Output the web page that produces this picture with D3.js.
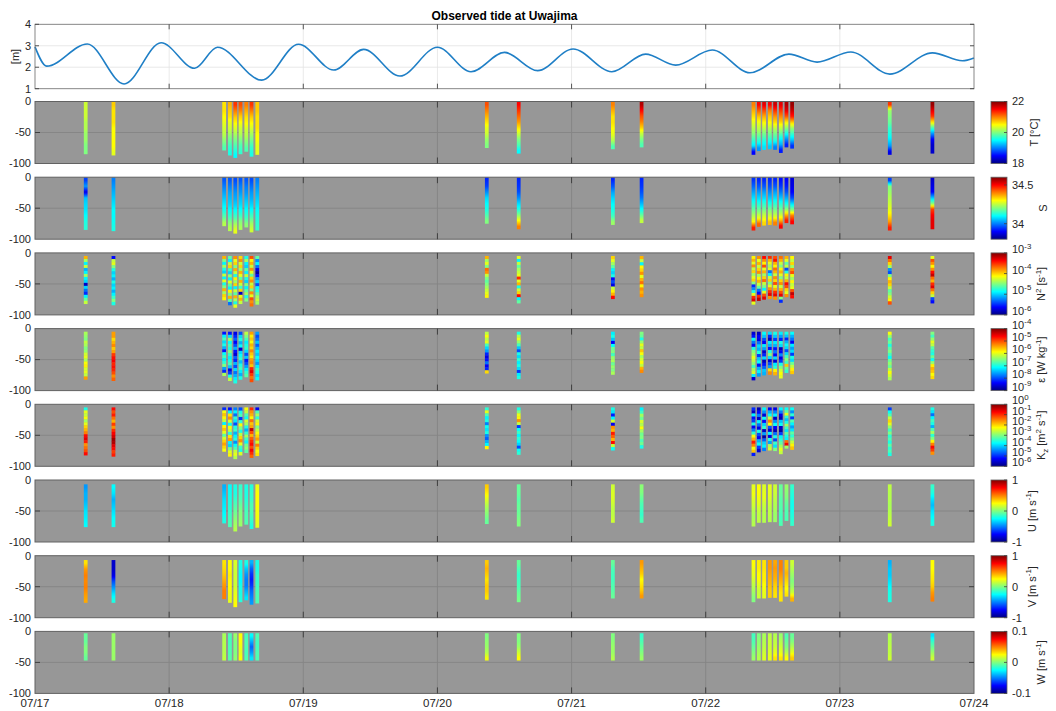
<!DOCTYPE html>
<html><head><meta charset="utf-8">
<script src="https://cdn.jsdelivr.net/npm/d3@7"></script>
<style>
body{margin:0;background:#fff;}
text{font-family:"Liberation Sans",Arial,Helvetica,sans-serif;}
</style>
</head><body>
<svg id="chart" width="1056" height="711"></svg>
<script>
// ---------------- DATA ----------------
const dayLabels = ["07/17","07/18","07/19","07/20","07/21","07/22","07/23","07/24"];
// tide extremes (days since 07/17 00:00, metres)
const tideDay   = [0.0,0.087,0.39,0.664,0.94,1.19,1.36,1.69,1.965,2.227,2.45,2.72,3.0,3.25,3.5,3.747,4.011,4.30,4.552,4.776,5.049,5.33,5.62,5.83,6.082,6.373,6.69,6.914,7.0];
const tideLevel = [2.95,2.05,3.08,1.22,3.14,1.95,2.93,1.40,3.07,1.87,2.83,1.59,2.93,1.79,2.69,1.84,2.85,1.79,2.61,2.10,2.80,1.74,2.61,2.24,2.71,1.68,2.67,2.30,2.43];

// cast times (days since 07/17 00:00)
const castTime  = [0.378,0.585, 1.410,1.453,1.493,1.532,1.575,1.614,1.657, 3.368,3.606, 4.308,4.522, 5.356,5.396,5.435,5.478,5.517,5.560,5.602,5.644, 6.372,6.690];
// profile bottom depths (m)
const ctdBottom = [85,87, 79,87,91,85,81,89,86, 75,84, 77,74, 86,80,78,77,78,83,74,76, 86,84];
const adcpBottom= [76,76, 70,76,83,75,72,79,77, 71,75, 69,69, 75,69,69,68,68,74,66,74, 75,74];
const wTopBottom = [3,47];

// Temperature [degC], top to bottom
const tempC = [
 [20.3,20.3,20.3,20.2,20.2,20.1,20.1,20.0,20.0],
 [20.7,20.6,20.6,20.6,20.5,20.5,20.5,20.5,20.4],
 [20.6,20.6,20.5,20.4,20.3,20.2,20.0,19.8],
 [20.8,20.7,20.6,20.4,20.3,20.1,19.9,19.7,19.6],
 [21.3,21.0,20.7,20.5,20.3,20.1,19.9,19.7,19.5],
 [21.2,21.0,20.7,20.5,20.3,20.2,20.0,19.8,19.7],
 [21.0,20.8,20.6,20.5,20.3,20.2,20.0,19.8],
 [21.3,21.0,20.7,20.5,20.3,20.1,19.9,19.7,19.6],
 [20.7,20.7,20.6,20.6,20.6,20.5,20.5,20.4,20.4],
 [21.2,21.0,20.8,20.6,20.4,20.3,20.1,20.0],
 [21.5,21.3,21.1,20.9,20.6,20.3,20.0,19.8,19.5],
 [21.0,20.8,20.6,20.6,20.5,20.4,20.2,19.8],
 [21.8,21.5,21.2,21.0,20.7,20.3,20.0,19.8],
 [21.0,20.8,20.6,20.4,20.2,20.0,19.7,19.4,18.5],
 [21.5,21.1,20.7,20.4,20.2,19.9,19.6,19.1],
 [21.6,21.2,20.8,20.5,20.2,19.9,19.6,19.4],
 [21.5,21.0,20.7,20.5,20.2,19.9,19.6,19.3],
 [21.7,21.3,20.9,20.6,20.2,19.9,19.6,19.0],
 [21.6,21.3,21.0,20.7,20.3,19.9,19.5,19.2,18.6],
 [21.8,21.6,21.2,20.6,20.1,19.6,19.1,18.6],
 [21.9,21.7,21.4,20.7,20.1,19.7,19.3,18.7],
 [21.3,20.1,20.0,19.9,19.7,19.6,19.4,19.1,18.4],
 [21.9,21.6,21.3,20.6,19.8,19.1,18.5,18.3,18.3]
];
// Salinity
const salinity = [
 [33.95,34.02,33.88,34.05,34.07,34.08,34.1,34.12,34.13],
 [34.0,34.02,34.04,34.06,34.08,34.1,34.1,34.11,34.12],
 [33.97,34.0,34.03,34.06,34.09,34.12,34.17,34.24],
 [33.97,34.0,34.03,34.05,34.07,34.1,34.14,34.2,34.24],
 [33.96,33.99,34.02,34.04,34.07,34.11,34.16,34.23,34.28],
 [33.97,34.0,34.02,34.05,34.07,34.1,34.14,34.2,34.23],
 [33.97,34.0,34.02,34.05,34.08,34.11,34.15,34.21],
 [33.96,33.99,34.02,34.04,34.07,34.11,34.16,34.22,34.26],
 [34.0,34.02,34.04,34.06,34.08,34.1,34.12,34.13,34.14],
 [33.93,33.95,34.01,34.07,34.1,34.12,34.16,34.2],
 [33.93,33.94,33.96,34.01,34.07,34.12,34.2,34.3,34.4],
 [33.93,33.97,34.03,34.07,34.1,34.12,34.15,34.22],
 [33.93,33.94,33.96,33.99,34.04,34.1,34.17,34.25],
 [33.94,33.98,34.03,34.08,34.13,34.18,34.24,34.3,34.48],
 [33.93,33.97,34.03,34.08,34.14,34.2,34.28,34.42],
 [33.93,33.97,34.03,34.08,34.14,34.2,34.27,34.33],
 [33.93,33.96,34.01,34.06,34.12,34.2,34.26,34.35],
 [33.93,33.97,34.03,34.08,34.14,34.2,34.27,34.4],
 [33.91,33.94,33.99,34.05,34.12,34.18,34.25,34.35,34.5],
 [33.9,33.92,33.96,34.03,34.1,34.2,34.35,34.48],
 [33.87,33.88,33.9,33.96,34.08,34.2,34.4,34.5],
 [33.95,34.2,34.22,34.24,34.26,34.28,34.32,34.38,34.48],
 [33.86,33.88,33.9,34.05,34.2,34.45,34.5,34.52,34.52]
];
// log10 N^2 [s^-1]
const log10N2 = [
 [-3.9,-4.4,-4.9,-4.3,-5.1,-4.9,-4.4,-4.9,-5.0,-5.8,-5.0,-5.3,-5.5,-4.9,-4.6,-4.3],
 [-5.6,-4.3,-4.2,-4.5,-4.8,-5.0,-4.9,-5.1,-4.8,-5.0,-4.9,-5.1,-4.9,-4.7,-4.5,-4.8],
 [-3.9,-4.5,-4.9,-4.4,-4.8,-5.0,-4.3,-4.9,-4.2,-4.8,-4.5,-3.9,-4.4,-4.0,-4.1],
 [-4.6,-4.9,-4.3,-4.0,-4.7,-5.0,-4.4,-4.9,-4.2,-4.6,-4.9,-4.1,-4.5,-3.9,-4.6,-5.3],
 [-3.8,-4.2,-4.0,-4.5,-3.9,-4.3,-4.8,-4.1,-4.4,-4.0,-4.9,-4.3,-4.6,-3.9,-4.4,-4.8,-4.2],
 [-4.0,-3.8,-4.3,-4.0,-4.4,-3.9,-4.2,-4.6,-3.9,-4.3,-4.7,-4.0,-5.8,-4.2,-3.9,-4.3],
 [-4.8,-4.4,-4.9,-5.0,-4.6,-4.9,-4.3,-4.8,-5.0,-4.5,-4.9,-4.6,-4.4,-4.8,-4.5],
 [-3.6,-4.1,-3.9,-4.3,-3.8,-4.2,-4.6,-4.0,-3.8,-4.3,-4.0,-4.5,-3.8,-4.2,-3.6,-3.8,-3.7],
 [-4.6,-5.2,-4.9,-5.3,-5.7,-5.9,-5.6,-5.2,-5.0,-5.4,-4.9,-4.8,-4.6,-4.4,-4.3,-4.4],
 [-3.9,-4.4,-4.2,-4.5,-3.7,-3.8,-4.3,-4.5,-4.6,-4.5,-4.4,-4.3,-4.2,-4.1],
 [-4.2,-4.9,-4.3,-4.6,-4.4,-4.3,-4.2,-3.5,-4.2,-3.9,-4.8,-4.3,-4.0,-3.4,-4.9,-4.6],
 [-4.0,-4.2,-4.4,-4.6,-4.9,-5.0,-4.8,-5.6,-5.4,-5.7,-4.3,-4.1,-3.9,-3.4],
 [-3.9,-4.3,-4.9,-4.1,-4.0,-3.8,-4.2,-3.9,-3.7,-4.1,-3.8,-3.9,-3.8],
 [-4.1,-3.9,-4.2,-3.8,-4.3,-4.0,-4.4,-4.2,-4.0,-4.5,-5.5,-5.2,-4.8,-4.2,-3.5,-3.3,-4.2],
 [-3.8,-4.2,-3.9,-4.3,-4.0,-3.8,-4.4,-4.1,-3.9,-4.3,-4.6,-5.3,-5.6,-3.5,-3.2],
 [-3.4,-3.8,-4.1,-3.6,-4.2,-3.9,-4.4,-4.0,-3.7,-4.3,-4.5,-4.9,-4.2,-3.6,-3.3],
 [-3.5,-3.9,-4.2,-4.4,-4.2,-5.3,-4.9,-4.3,-4.0,-4.5,-4.2,-3.8,-3.5,-3.3,-3.8],
 [-3.6,-3.4,-3.9,-4.1,-3.7,-3.9,-4.3,-3.8,-4.0,-3.6,-4.2,-3.9,-3.5,-3.3,-3.8],
 [-3.7,-3.9,-4.3,-4.5,-4.1,-3.9,-4.2,-4.5,-4.0,-3.8,-4.3,-3.9,-3.6,-3.3,-4.5,-5.5],
 [-3.9,-4.2,-4.6,-4.3,-5.4,-4.8,-4.1,-4.3,-3.9,-3.4,-3.6,-4.0,-4.2,-3.8],
 [-4.1,-4.3,-4.0,-4.4,-3.8,-3.6,-4.2,-4.4,-4.1,-4.3,-4.2,-3.6,-3.2,-3.4],
 [-3.3,-3.7,-4.0,-4.4,-5.2,-5.4,-4.5,-4.1,-3.9,-4.0,-4.3,-4.6,-4.5,-4.3,-4.1,-3.6],
 [-4.2,-3.6,-3.8,-4.1,-3.8,-3.4,-3.2,-3.7,-3.9,-3.5,-3.3,-3.7,-4.0,-4.3,-5.4,-5.6]
];
// log10 epsilon [W kg^-1]
const log10Eps = [
 [-6.3,-6.4,-6.5,-6.2,-6.3,-6.5,-6.4,-6.1,-6.0,-6.3,-5.9,-5.8,-6.1,-6.0,-6.2,-5.4],
 [-5.4,-5.4,-5.7,-5.5,-5.3,-5.6,-5.4,-4.9,-4.7,-4.6,-4.8,-4.7,-4.8,-5.0,-5.3,-5.1],
 [-8.3,-7.2,-6.8,-7.3,-7.0,-7.5,-8.3,-7.1,-6.8,-7.2,-6.9,-6.5,-7.6,-8.2,-6.3],
 [-8.3,-7.3,-6.4,-7.1,-6.8,-7.0,-6.5,-6.9,-7.2,-7.0,-6.8,-7.4,-8.5,-8.1,-7.0,-6.2],
 [-8.5,-8.2,-7.9,-8.4,-8.0,-7.5,-8.3,-8.6,-7.9,-8.2,-7.5,-8.0,-7.3,-7.8,-7.5,-7.2,-7.0],
 [-8.0,-7.3,-7.0,-7.5,-7.1,-8.6,-7.3,-7.1,-6.9,-7.4,-7.0,-6.8,-7.2,-7.5,-7.0],
 [-6.2,-6.5,-6.8,-7.2,-7.0,-6.9,-7.3,-8.0,-7.4,-8.3,-8.0,-7.6,-7.2,-6.9,-6.7],
 [-5.4,-5.8,-5.6,-5.9,-5.5,-5.7,-5.3,-5.6,-5.8,-5.4,-5.3,-5.6,-4.8,-4.5,-4.9,-5.2,-5.0],
 [-7.6,-8.0,-7.8,-7.4,-7.9,-7.5,-7.2,-7.4,-7.1,-7.3,-7.6,-7.2,-6.9,-7.0,-7.3,-7.1],
 [-6.2,-5.9,-6.2,-6.0,-6.8,-7.3,-7.6,-8.2,-8.5,-8.3,-7.8,-8.4,-8.2,-5.7],
 [-7.0,-6.3,-6.0,-6.4,-6.8,-7.4,-8.0,-7.0,-7.3,-6.9,-7.2,-7.0,-7.3,-8.1,-7.2,-7.0],
 [-7.2,-7.0,-7.4,-8.4,-7.1,-6.6,-6.5,-6.8,-6.4,-6.3,-6.6,-6.4,-6.5,-6.3],
 [-6.5,-6.6,-7.0,-6.4,-6.0,-6.2,-5.6,-5.9,-6.3,-6.1,-5.9,-6.2,-5.5,-5.3],
 [-8.6,-8.3,-7.1,-7.8,-8.4,-7.0,-6.5,-6.3,-6.0,-6.2,-6.4,-6.8,-6.3,-6.1,-7.2,-8.6],
 [-8.7,-8.4,-8.5,-7.8,-7.3,-7.5,-7.0,-8.1,-7.4,-7.1,-8.3,-7.5,-7.2,-7.6],
 [-7.1,-7.4,-8.0,-8.4,-7.2,-7.6,-8.6,-8.2,-7.3,-8.7,-8.3,-7.9,-7.4,-7.5],
 [-7.3,-8.2,-8.7,-7.2,-7.5,-8.3,-7.0,-6.5,-7.3,-8.6,-8.0,-7.6,-5.7,-5.3],
 [-7.0,-7.4,-8.1,-7.2,-7.5,-8.3,-7.8,-8.4,-7.3,-8.6,-7.2,-6.9,-5.8,-5.5],
 [-7.2,-7.6,-8.2,-7.0,-7.3,-8.7,-8.4,-7.7,-8.5,-8.1,-7.0,-6.5,-6.1,-5.9,-6.0],
 [-7.0,-7.4,-8.2,-7.5,-7.1,-7.3,-8.0,-7.3,-6.8,-6.5,-6.8,-5.6,-6.6,-6.9],
 [-7.1,-7.5,-7.8,-8.4,-7.2,-7.6,-7.3,-8.1,-7.0,-7.3,-6.6,-6.2,-5.8,-5.6],
 [-5.9,-6.4,-6.8,-6.6,-7.0,-6.7,-6.5,-6.8,-7.1,-6.6,-6.4,-6.6,-6.2,-5.9,-6.1,-6.3],
 [-6.5,-6.8,-6.4,-6.0,-6.2,-6.7,-6.9,-7.0,-6.6,-7.1,-6.4,-5.8,-5.5,-5.6,-5.9,-5.7]
];
// log10 Kz [m^2 s^-1]
const log10Kz = [
 [-3.6,-2.4,-2.6,-2.3,-2.8,-2.4,-2.0,-1.8,-1.5,-0.8,-0.6,-0.9,-1.6,-1.4,-1.2,-0.8],
 [-0.8,-1.2,-0.9,-1.4,-1.8,-1.1,-1.6,-1.0,-0.7,-0.5,-0.2,-0.3,-0.6,-0.8,-1.1,-0.9],
 [-5.0,-2.3,-1.9,-2.2,-2.6,-3.8,-2.2,-1.9,-2.4,-3.2,-2.5,-2.0,-1.7,-2.0,-2.3],
 [-5.2,-3.8,-2.1,-1.6,-2.5,-3.7,-2.3,-2.6,-3.5,-2.1,-1.7,-3.8,-4.0,-3.0,-2.4,-2.2],
 [-4.5,-3.8,-4.6,-3.5,-3.9,-4.8,-3.6,-3.4,-4.2,-3.8,-3.5,-4.4,-3.7,-3.3,-2.6,-2.4,-2.7],
 [-4.8,-3.6,-3.3,-4.9,-3.5,-2.3,-3.0,-3.6,-2.7,-2.0,-1.6,-2.4,-3.4,-3.6,-2.5],
 [-2.3,-2.6,-3.3,-3.7,-2.5,-2.8,-3.6,-4.2,-3.5,-2.8,-3.4,-3.8,-3.1,-2.9,-3.2],
 [-1.0,-1.6,-1.8,-2.2,-1.4,-1.9,-1.7,-0.4,-1.2,-1.8,-1.3,-1.0,-0.8,-1.2,-0.7,-1.0,-1.3],
 [-5.3,-3.3,-2.8,-3.5,-2.5,-2.2,-3.0,-2.6,-2.3,-2.0,-1.7,-2.5,-1.5,-2.0,-2.3,-2.1],
 [-3.5,-2.4,-3.3,-3.8,-3.6,-4.5,-3.7,-3.9,-3.6,-4.4,-4.7,-4.2,-3.8,-2.2],
 [-3.6,-3.0,-2.4,-2.2,-1.6,-2.6,-4.9,-3.7,-3.4,-3.8,-3.5,-3.7,-4.0,-4.8,-3.7,-3.5],
 [-3.6,-3.9,-5.1,-3.8,-2.5,-5.3,-1.6,-1.8,-0.9,-1.3,-1.8,-0.8,-2.6,-3.7],
 [-3.8,-3.4,-2.8,-3.1,-2.5,-2.7,-2.3,-2.8,-3.1,-3.0,-3.3,-3.1,-3.6],
 [-5.0,-5.6,-3.8,-5.2,-4.9,-3.6,-5.3,-4.5,-3.5,-2.3,-1.8,-0.9,-1.5,-2.3,-1.9,-5.1],
 [-5.7,-5.2,-4.5,-5.6,-3.8,-4.6,-5.4,-3.6,-4.8,-5.3,-4.2,-3.7,-4.9,-5.5],
 [-3.8,-4.4,-5.5,-3.7,-5.2,-4.0,-3.5,-5.6,-4.3,-5.8,-4.7,-4.0,-3.8,-4.5],
 [-5.3,-4.2,-3.7,-2.6,-1.5,-2.3,-4.8,-5.5,-3.8,-5.4,-3.6,-4.3,-2.8,-2.5],
 [-5.4,-4.5,-3.8,-5.6,-4.4,-3.7,-5.3,-5.7,-4.6,-3.6,-4.9,-3.4,-3.9,-3.0],
 [-3.8,-4.5,-5.4,-5.7,-4.1,-3.7,-5.6,-5.8,-4.9,-3.8,-3.5,-3.2,-2.8,-2.4,-2.6],
 [-3.7,-3.2,-2.4,-3.5,-4.1,-3.6,-2.8,-3.4,-3.9,-3.2,-3.6,-3.8,-1.4,-0.7,-2.8],
 [-3.7,-4.4,-3.5,-4.9,-3.3,-3.8,-4.3,-3.9,-3.2,-3.5,-3.1,-2.6,-2.2,-1.9],
 [-4.9,-3.7,-3.3,-2.6,-2.0,-2.4,-2.9,-3.4,-3.0,-3.5,-3.3,-3.6,-3.2,-3.5,-3.3,-3.6],
 [-3.6,-3.9,-4.6,-3.8,-3.4,-3.6,-4.2,-3.3,-2.8,-3.5,-3.0,-2.2,-1.5,-0.8,-1.1,-1.6]
];
// U [m s^-1]
const velU = [
 [-0.45,-0.4,-0.4,-0.35,-0.3,-0.28,-0.25],
 [-0.25,-0.3,-0.4,-0.35,-0.3,-0.25,-0.22],
 [-0.4,-0.35,-0.3,-0.28,-0.25,-0.2],
 [-0.25,-0.22,-0.2,-0.18,-0.15,-0.12,-0.1],
 [-0.2,-0.2,-0.15,-0.1,-0.05,0.0,0.05,0.1],
 [-0.15,-0.12,-0.1,-0.05,0.0,0.02,0.05],
 [-0.2,-0.2,-0.18,-0.15,-0.12,-0.1,-0.1],
 [-0.18,-0.15,-0.15,-0.1,-0.1,-0.12,-0.15,-0.2],
 [0.22,0.25,0.25,0.25,0.23,0.22,0.2],
 [0.35,0.28,0.2,0.12,0.05,0.0,-0.05],
 [-0.05,-0.05,-0.08,-0.05,-0.05,-0.02,0.0],
 [0.15,0.18,0.18,0.15,0.12,0.12,0.15],
 [0.02,0.0,-0.05,-0.1,-0.12,-0.15,-0.1],
 [0.2,0.22,0.18,0.15,0.1,0.08,0.1],
 [0.25,0.25,0.22,0.2,0.15,0.12,0.12],
 [0.18,0.2,0.2,0.15,0.12,0.1,0.1],
 [0.2,0.2,0.18,0.15,0.12,0.12,0.1],
 [0.15,0.15,0.12,0.1,0.08,0.05,0.05],
 [-0.05,-0.05,-0.08,-0.08,-0.1,-0.12,-0.1],
 [0.05,0.02,0.0,-0.05,-0.08,-0.1,-0.1],
 [-0.15,-0.18,-0.2,-0.22,-0.2,-0.18,-0.15],
 [0.12,0.1,0.1,0.08,0.1,0.12,0.15],
 [-0.15,-0.2,-0.3,-0.38,-0.3,-0.25,-0.2]
];
// V [m s^-1]
const velV = [
 [0.3,0.45,0.5,0.48,0.5,0.45,0.42],
 [-0.85,-0.85,-0.8,-0.6,-0.45,-0.3,-0.2],
 [0.3,0.32,0.35,0.4,0.45,0.5,0.5],
 [0.25,0.25,0.28,0.25,0.25,0.22,0.2],
 [0.18,0.15,0.15,0.15,0.15,0.2,0.22,0.25],
 [-0.2,-0.22,-0.25,-0.25,-0.2,-0.2,-0.18],
 [-0.2,-0.35,-0.45,-0.5,-0.5,-0.4,-0.3],
 [-0.4,-0.55,-0.65,-0.7,-0.65,-0.55,-0.5,-0.45],
 [-0.2,-0.2,-0.15,-0.15,-0.12,-0.1,-0.1],
 [0.35,0.4,0.35,0.3,0.35,0.35,0.3],
 [-0.05,-0.1,-0.15,-0.12,-0.1,-0.05,-0.02],
 [-0.05,-0.1,-0.12,-0.12,-0.1,-0.08,-0.05],
 [0.45,0.4,0.35,0.25,0.3,0.35,0.45],
 [0.25,0.22,0.2,0.15,0.1,0.05,0.0],
 [0.28,0.28,0.25,0.25,0.2,0.15,0.15],
 [0.3,0.3,0.28,0.28,0.25,0.22,0.2],
 [0.45,0.45,0.42,0.4,0.38,0.35,0.35],
 [0.42,0.45,0.42,0.4,0.35,0.32,0.3],
 [0.5,0.5,0.45,0.4,0.35,0.3,0.3],
 [0.35,0.35,0.4,0.35,0.3,0.25,0.3],
 [0.15,0.1,0.05,0.0,0.05,0.15,0.4],
 [-0.4,-0.35,-0.35,-0.3,-0.25,-0.2,-0.2],
 [0.25,0.25,0.28,0.3,0.35,0.45,0.5]
];
// W [m s^-1]
const velW = [
 [-0.005,-0.005,0.0,0.0,-0.005],
 [0.005,0.005,0.005,0.005,0.005],
 [0.008,0.01,0.01,0.01,0.012],
 [-0.01,-0.012,-0.01,-0.01,-0.008],
 [0.005,0.0,0.0,0.0,0.003],
 [0.025,0.025,0.022,0.02,0.025],
 [-0.012,-0.01,-0.01,-0.012,-0.01],
 [-0.025,-0.04,-0.055,-0.045,-0.03],
 [-0.01,-0.012,-0.012,-0.01,-0.01],
 [0.0,0.003,0.005,0.01,0.022],
 [0.0,0.0,0.005,0.015,0.025],
 [0.0,0.002,0.005,0.005,0.01],
 [-0.015,-0.01,-0.005,0.0,0.005],
 [-0.012,-0.01,-0.005,0.0,0.005],
 [0.0,0.003,0.005,0.008,0.01],
 [0.008,0.01,0.012,0.015,0.018],
 [0.012,0.015,0.015,0.018,0.02],
 [0.01,0.012,0.015,0.02,0.03],
 [0.005,0.01,0.015,0.02,0.03],
 [-0.01,-0.005,0.0,0.01,0.025],
 [-0.005,0.0,0.01,0.02,0.035],
 [0.01,0.01,0.012,0.012,0.015],
 [-0.03,-0.015,-0.005,0.005,0.015]
];

// ---------------- DRAWING ----------------
const svg = d3.select("#chart");
const defs = svg.append("defs");
const txtCol = "#262626";
const x = d3.scaleLinear().domain([0, 7]).range([35, 974]);
const halfW = 0.014;

function jet(v){
  v = Math.max(0, Math.min(1, v));
  const c = t => Math.round(255 * Math.max(0, Math.min(1, 1.5 - Math.abs(t))));
  return `rgb(${c(4*v-3)},${c(4*v-2)},${c(4*v-1)})`;
}

// ---- tide panel ----
const tTop = 24.3, tBot = 88.7;
const ty = d3.scaleLinear().domain([1, 4]).range([tBot, tTop]);
const tg = svg.append("g");
tg.append("rect").attr("x", x(0)).attr("y", tTop).attr("width", x(7)-x(0)).attr("height", tBot-tTop).attr("fill", "#fff");
tg.selectAll(".tvg").data(d3.range(1,7)).join("line")
  .attr("x1", d=>x(d)).attr("x2", d=>x(d)).attr("y1", tTop).attr("y2", tBot)
  .attr("stroke", "#e3e3e3").attr("stroke-width", 0.8);
tg.selectAll(".thg").data([2,3]).join("line")
  .attr("x1", x(0)).attr("x2", x(7)).attr("y1", d=>ty(d)).attr("y2", d=>ty(d))
  .attr("stroke", "#e3e3e3").attr("stroke-width", 0.8);
const tideLine = d3.line().x((d,i)=>x(tideDay[i])).y(d=>ty(d)).curve(d3.curveMonotoneX);
tg.append("path").attr("d", tideLine(tideLevel)).attr("fill","none")
  .attr("stroke", "#1f7fc6").attr("stroke-width", 1.6);
tg.append("rect").attr("x", x(0)).attr("y", tTop).attr("width", x(7)-x(0)).attr("height", tBot-tTop)
  .attr("fill","none").attr("stroke","#7a7a7a").attr("stroke-width",0.9);
tg.selectAll(".ttk").data(d3.range(1,7)).join("path")
  .attr("d", d=>`M${x(d)},${tTop}v5M${x(d)},${tBot}v-5`).attr("stroke","#444").attr("stroke-width",0.9);
tg.selectAll(".tyk").data([1,2,3,4]).join("path")
  .attr("d", d=>`M${x(0)},${ty(d)}h4M${x(7)},${ty(d)}h-4`).attr("stroke","#444").attr("stroke-width",0.9);
tg.selectAll(".tyl").data([1,2,3,4]).join("text")
  .attr("x", 31).attr("y", d=>ty(d)).attr("dy","0.35em").attr("text-anchor","end")
  .attr("font-size", 11).attr("fill", txtCol).text(d=>d);
tg.append("text").attr("transform","translate(19,56.5) rotate(-90)").attr("text-anchor","middle")
  .attr("font-size", 11).attr("fill", txtCol).text("[m]");
svg.append("text").attr("x", (x(0)+x(7))/2).attr("y", 20).attr("text-anchor","middle")
  .attr("font-size", 12).attr("font-weight","bold").attr("fill","#000").text("Observed tide at Uwajima");

// ---- profile panels ----
const panelTop0 = 101.5, panelStep = 75.7, panelH = 62;
const linTicks = (arr, f) => arr.map(v => ({v, base: f(v), sup: null}));
const logTicks = (lo, hi) => d3.range(lo, hi+1).map(k => ({v:k, base:"10", sup:String(k)}));

const panels = [
  {data: tempC,    dom:[18,22],      mode:"grad", top:()=>0.5, bot:i=>ctdBottom[i],
   ticks: linTicks([18,20,22], String), label:[["T [°C]"]]},
  {data: salinity, dom:[33.8,34.6],  mode:"grad", top:()=>0.5, bot:i=>ctdBottom[i],
   ticks: linTicks([34,34.5], String), label:[["S"]]},
  {data: log10N2,  dom:[-6,-3],      mode:"block", top:()=>5, bot:i=>ctdBottom[i]-3,
   ticks: logTicks(-6,-3), label:[["N"],["2","sup"],[" [s"],["-1","sup"],["]"]]},
  {data: log10Eps, dom:[-9,-4],      mode:"block", top:()=>5, bot:i=>ctdBottom[i]-3,
   ticks: logTicks(-9,-4), label:[["ε [W kg"],["-1","sup"],["]"]]},
  {data: log10Kz,  dom:[-6,0],       mode:"block", top:()=>5, bot:i=>ctdBottom[i]-3,
   ticks: logTicks(-6,0), label:[["K"],["z","sub"],[" [m"],["2","sup"],[" s"],["-1","sup"],["]"]]},
  {data: velU,     dom:[-1,1],       mode:"grad", top:()=>7, bot:i=>adcpBottom[i],
   ticks: linTicks([-1,0,1], String), label:[["U [m s"],["-1","sup"],["]"]]},
  {data: velV,     dom:[-1,1],       mode:"grad", top:()=>7, bot:i=>adcpBottom[i],
   ticks: linTicks([-1,0,1], String), label:[["V [m s"],["-1","sup"],["]"]]},
  {data: velW,     dom:[-0.1,0.1],   mode:"grad", top:()=>wTopBottom[0], bot:()=>wTopBottom[1],
   ticks: linTicks([-0.1,0,0.1], String), label:[["W [m s"],["-1","sup"],["]"]]}
];

function addRichText(sel, parts, baseSize){
  let shift = 0;
  parts.forEach(p => {
    const ts = sel.append("tspan");
    let target = 0;
    if (p[1] === "sup") target = -baseSize*0.4;
    if (p[1] === "sub") target = baseSize*0.25;
    ts.attr("dy", target - shift);
    shift = target;
    if (p[1]) ts.attr("font-size", baseSize*0.72);
    ts.text(p[0]);
  });
}

panels.forEach((p, pi) => {
  const top = panelTop0 + pi*panelStep;
  const ys = d3.scaleLinear().domain([0, 100]).range([top, top+panelH]);
  const cnorm = d3.scaleLinear().domain(p.dom).range([0, 1]);
  const g = svg.append("g");
  g.append("rect").attr("x", x(0)).attr("y", top).attr("width", x(7)-x(0)).attr("height", panelH).attr("fill", "#979797");
  g.selectAll(".vg").data(d3.range(1,7)).join("line")
    .attr("x1", d=>x(d)).attr("x2", d=>x(d)).attr("y1", top).attr("y2", top+panelH)
    .attr("stroke", "#858585").attr("stroke-width", 0.9);
  g.append("line").attr("x1", x(0)).attr("x2", x(7)).attr("y1", ys(50)).attr("y2", ys(50))
    .attr("stroke", "#858585").attr("stroke-width", 0.9);

  castTime.forEach((t, ci) => {
    const vals = p.data[ci];
    const d0 = p.top(ci), d1 = p.bot(ci);
    const x0 = x(t - halfW), w = x(t + halfW) - x0;
    if (p.mode === "grad") {
      const id = `gr${pi}_${ci}`;
      const lg = defs.append("linearGradient").attr("id", id)
        .attr("x1",0).attr("y1",0).attr("x2",0).attr("y2",1);
      const n = vals.length;
      for (let k = 0; k < n; k++) {
        const pos = (k + 0.5) / n;
        lg.append("stop").attr("offset", pos).attr("stop-color", jet(cnorm(vals[k])));
        if (k < n-1) {
          for (let s = 1; s < 4; s++) {
            const f = s/4;
            const vv = vals[k] + (vals[k+1]-vals[k])*f;
            lg.append("stop").attr("offset", pos + f/n).attr("stop-color", jet(cnorm(vv)));
          }
        }
      }
      g.append("rect").attr("x", x0).attr("y", ys(d0)).attr("width", w).attr("height", ys(d1)-ys(d0))
        .attr("fill", `url(#${id})`);
    } else {
      const n = vals.length, step = (d1 - d0) / n;
      vals.forEach((v, k) => {
        g.append("rect").attr("x", x0).attr("y", ys(d0 + k*step))
          .attr("width", w).attr("height", ys(d0 + (k+1)*step) - ys(d0 + k*step) + 0.3)
          .attr("fill", jet(cnorm(v)));
      });
    }
  });

  g.append("rect").attr("x", x(0)).attr("y", top).attr("width", x(7)-x(0)).attr("height", panelH)
    .attr("fill","none").attr("stroke","#626262").attr("stroke-width",1);
  g.selectAll(".tk").data(d3.range(1,7)).join("path")
    .attr("d", d=>`M${x(d)},${top}v6M${x(d)},${top+panelH}v-6`).attr("stroke","#404040").attr("stroke-width",1);
  g.append("path").attr("d", `M${x(0)},${ys(50)}h5M${x(7)},${ys(50)}h-5`).attr("stroke","#404040").attr("stroke-width",1);
  g.selectAll(".yl").data([0,50,100]).join("text")
    .attr("x", 31).attr("y", d=>ys(d)).attr("dy","0.35em").attr("text-anchor","end")
    .attr("font-size", 11).attr("fill", txtCol).text(d => d === 0 ? "0" : "-" + d);

  // colorbar
  const cbx = 991, cbw = 16;
  const cbid = `cb${pi}`;
  const cg = defs.append("linearGradient").attr("id", cbid).attr("x1",0).attr("y1",1).attr("x2",0).attr("y2",0);
  d3.range(0, 65).forEach(k => {
    cg.append("stop").attr("offset", k/64).attr("stop-color", jet(k/64));
  });
  const cby = d3.scaleLinear().domain(p.dom).range([top+panelH, top]);
  g.append("rect").attr("x", cbx).attr("y", top).attr("width", cbw).attr("height", panelH)
    .attr("fill", `url(#${cbid})`).attr("stroke","#626262").attr("stroke-width",0.8);
  let maxW = 0;
  p.ticks.forEach(tk => {
    const tt = g.append("text").attr("x", cbx + cbw + 5).attr("y", cby(tk.v)).attr("dy","0.35em")
      .attr("font-size", 11).attr("fill", txtCol);
    if (tk.sup === null) tt.text(tk.base);
    else addRichText(tt, [[tk.base],[tk.sup,"sup"]], 11);
    maxW = Math.max(maxW, tt.node().getComputedTextLength());
    g.append("path").attr("d", `M${cbx+cbw},${cby(tk.v)}h-3`).attr("stroke","#404040").attr("stroke-width",0.8);
  });
  const lx = cbx + cbw + 5 + maxW + 14;
  const lt = g.append("text").attr("transform", `translate(${lx},${top+panelH/2}) rotate(-90)`)
    .attr("text-anchor","middle").attr("font-size", 11).attr("fill", txtCol);
  addRichText(lt, p.label, 11);
});

// x labels
svg.selectAll(".xl").data(dayLabels).join("text")
  .attr("x", (d,i)=>x(i)).attr("y", 707).attr("text-anchor","middle")
  .attr("font-size", 11.5).attr("fill", txtCol).text(d=>d);
</script>
</body></html>
